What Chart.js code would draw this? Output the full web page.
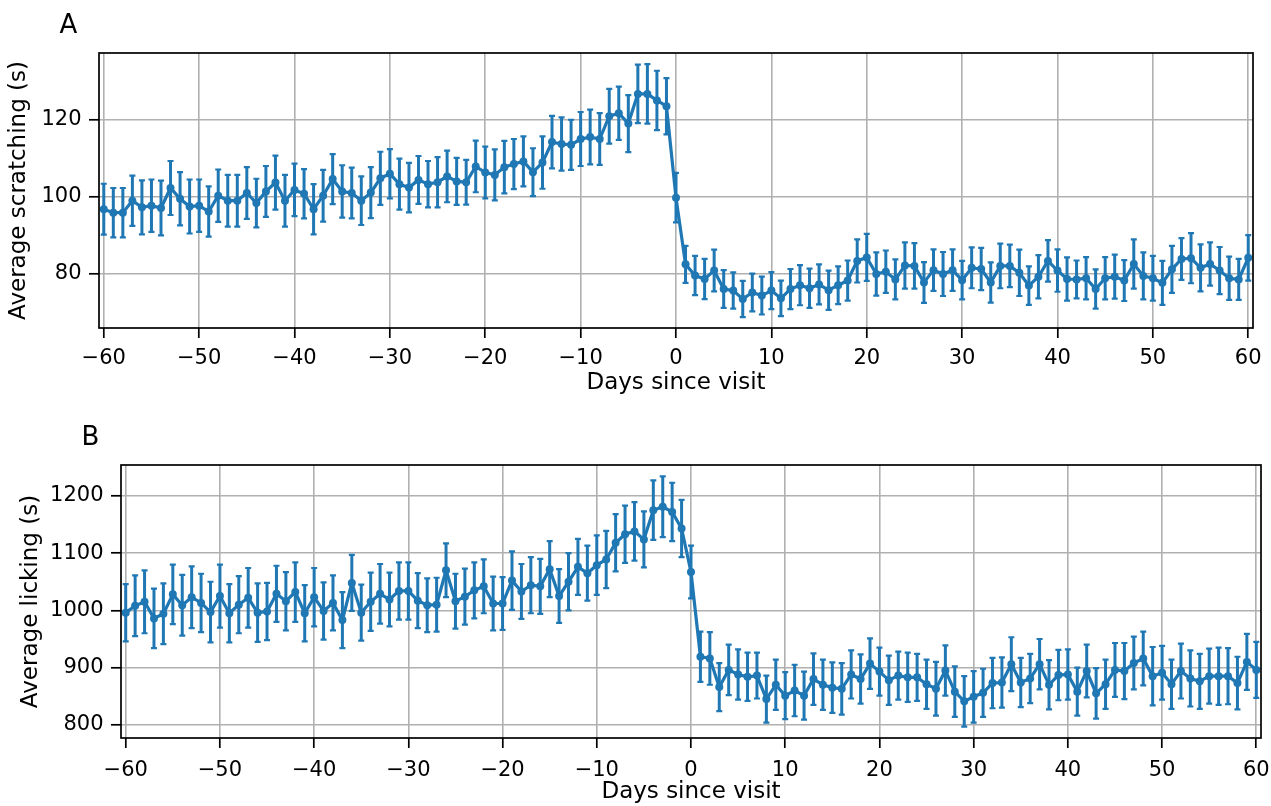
<!DOCTYPE html>
<html>
<head>
<meta charset="utf-8">
<script src="https://cdn.jsdelivr.net/npm/chart.js@4.4.0/dist/chart.umd.min.js"></script>
<style>
  html, body { margin: 0; padding: 0; background: #fff; }
  #wrap { position: relative; width: 1271px; height: 806px; }
  canvas { position: absolute; left: 0; }
  #chartA { top: 0; }
  #chartB { top: 405px; }
</style>
</head>
<body>
<div id="wrap">
  <canvas id="chartA" width="1271" height="405"></canvas>
  <canvas id="chartB" width="1271" height="401"></canvas>
</div>
<script>
// days relative to the visit
var days = [-60, -59, -58, -57, -56, -55, -54, -53, -52, -51, -50, -49, -48, -47, -46, -45, -44, -43, -42, -41,
  -40, -39, -38, -37, -36, -35, -34, -33, -32, -31, -30, -29, -28, -27, -26, -25, -24, -23, -22, -21,
  -20, -19, -18, -17, -16, -15, -14, -13, -12, -11, -10, -9, -8, -7, -6, -5, -4, -3, -2, -1,
  0, 1, 2, 3, 4, 5, 6, 7, 8, 9, 10, 11, 12, 13, 14, 15, 16, 17, 18, 19, 20,
  21, 22, 23, 24, 25, 26, 27, 28, 29, 30, 31, 32, 33, 34, 35, 36, 37, 38, 39, 40,
  41, 42, 43, 44, 45, 46, 47, 48, 49, 50, 51, 52, 53, 54, 55, 56, 57, 58, 59, 60];
var xTicks = [-60, -50, -40, -30, -20, -10, 0, 10, 20, 30, 40, 50, 60];

// panel A: scratching
var scratchMean = [96.8, 95.9, 95.9, 99.0, 97.3, 97.7, 97.1, 102.3, 99.5, 97.5,
  97.7, 96.2, 100.3, 99.0, 99.0, 101.0, 98.4, 101.4, 103.7, 99.0,
  101.8, 100.8, 96.8, 100.3, 104.6, 101.4, 101.0, 99.0, 101.1, 104.8,
  106.0, 103.3, 102.4, 104.4, 103.3, 103.8, 105.3, 104.0, 103.8, 107.9,
  106.3, 105.7, 107.7, 108.5, 109.2, 106.4, 108.9, 114.2, 113.7, 113.5,
  115.0, 115.5, 115.0, 120.9, 121.7, 119.0, 126.7, 126.7, 125.0, 123.5,
  99.8,
  82.5, 79.6, 78.7, 80.9, 76.1, 75.7, 73.5, 75.2, 74.4, 75.7,
  73.7, 76.1, 77.1, 76.3, 77.3, 75.8, 77.1, 78.3, 83.4, 84.3,
  80.0, 80.6, 78.6, 82.2, 82.1, 77.8, 81.0, 80.0, 81.0, 78.4,
  81.6, 81.3, 77.8, 82.1, 82.1, 80.3, 77.0, 79.3, 83.4, 80.9,
  78.7, 78.6, 78.9, 76.1, 78.9, 79.3, 78.3, 82.6, 79.5, 78.9,
  77.7, 81.2, 83.9, 84.1, 81.6, 82.6, 80.9, 78.9, 78.6, 84.2];
var scratchErr = [6.6, 6.4, 6.4, 6.5, 7.0, 6.8, 7.1, 7.0, 6.9, 7.0,
  6.8, 6.5, 6.8, 6.7, 6.7, 6.7, 6.3, 6.6, 7.0, 6.7,
  6.8, 6.4, 6.5, 6.7, 6.5, 6.8, 6.6, 6.3, 6.6, 6.9,
  6.4, 6.6, 6.4, 6.2, 6.0, 6.5, 6.7, 6.1, 5.8, 6.7,
  6.7, 6.6, 6.8, 6.5, 6.5, 6.2, 6.8, 6.8, 6.9, 6.5,
  7.0, 7.1, 6.7, 7.1, 6.9, 7.4, 7.6, 7.7, 7.7, 7.3,
  6.4,
  4.8, 5.1, 5.2, 5.4, 4.9, 4.7, 4.7, 4.9, 4.9, 4.8,
  4.6, 5.2, 5.2, 5.1, 5.2, 5.1, 4.9, 5.2, 5.6, 6.1,
  5.6, 5.5, 5.2, 6.0, 5.9, 5.3, 5.4, 5.7, 5.4, 5.0,
  5.3, 5.5, 5.2, 5.8, 5.5, 6.0, 5.0, 5.6, 5.4, 5.5,
  5.6, 4.9, 5.5, 5.1, 5.5, 5.7, 5.3, 6.4, 6.1, 5.8,
  5.7, 6.1, 5.4, 6.5, 6.1, 5.6, 6.1, 5.6, 5.3, 5.9];
var scratchTicks = [80, 100, 120];

// panel B: licking
var lickMean = [996, 1008, 1015, 986, 994, 1028, 1009, 1023, 1013, 997,
  1025, 995, 1010, 1022, 996, 998, 1029, 1016, 1032, 995,
  1023, 999, 1013, 983, 1048, 996, 1015, 1029, 1019, 1034,
  1034, 1017, 1009, 1010, 1070, 1016, 1024, 1035, 1042, 1012,
  1012, 1052, 1033, 1044, 1042, 1072, 1025, 1050, 1076, 1065,
  1079, 1089, 1118, 1133, 1138, 1124, 1175, 1181, 1172, 1143,
  1067,
  919, 916, 866, 896, 888, 884, 886, 845, 870, 851,
  860, 851, 880, 870, 865, 863, 888, 880, 907, 893,
  878, 886, 883, 883, 871, 863, 895, 858, 841, 849,
  856, 873, 874, 906, 874, 881, 906, 870, 887, 888,
  858, 894, 855, 871, 896, 894, 908, 916, 885, 891,
  871, 894, 881, 876, 885, 885, 885, 873, 910, 896];
var lickErr = [50, 53, 55, 52, 53, 52, 53, 54, 51, 53,
  55, 51, 50, 52, 51, 50, 49, 51, 52, 49,
  51, 50, 48, 49, 49, 49, 51, 52, 47, 50,
  50, 48, 47, 47, 47, 48, 49, 49, 47, 47,
  46, 51, 48, 49, 48, 49, 47, 50, 49, 48,
  52, 50, 50, 50, 51, 49, 52, 53, 51, 50,
  46,
  44, 46, 42, 44, 44, 42, 40, 41, 44, 41,
  45, 42, 45, 44, 44, 45, 42, 43, 44, 42,
  43, 42, 43, 41, 43, 47, 44, 44, 44, 45,
  42, 44, 44, 47, 43, 43, 44, 43, 44, 44,
  42, 46, 44, 43, 47, 49, 46, 47, 51, 47,
  43, 48, 49, 48, 48, 50, 49, 46, 49, 49];
var lickTicks = [800, 900, 1000, 1100, 1200];

var blue = "#1f77b4";
Chart.defaults.font.family = "'DejaVu Sans', sans-serif";
Chart.defaults.color = "#000";

// vertical error bars with small caps, drawn under the line
var errorBars = {
  id: "errorBars",
  beforeDatasetsDraw: function (chart) {
    var ctx = chart.ctx;
    var x = chart.scales.x, y = chart.scales.y;
    var ds = chart.data.datasets[0];
    ctx.save();
    ctx.strokeStyle = blue;
    ds.data.forEach(function (p, i) {
      var px = x.getPixelForValue(p.x);
      var top = y.getPixelForValue(p.y + ds.errors[i]);
      var bot = y.getPixelForValue(p.y - ds.errors[i]);
      ctx.lineWidth = 3;
      ctx.beginPath();
      ctx.moveTo(px, top);
      ctx.lineTo(px, bot);
      ctx.stroke();
      ctx.lineWidth = 2.2;
      ctx.beginPath();
      ctx.moveTo(px - 3, top);
      ctx.lineTo(px + 3, top);
      ctx.moveTo(px - 3, bot);
      ctx.lineTo(px + 3, bot);
      ctx.stroke();
    });
    ctx.restore();
  },
};

// black frame round the plot and the panel letter
var frame = {
  id: "frame",
  afterDraw: function (chart, args, opts) {
    var ctx = chart.ctx;
    var a = chart.chartArea;
    ctx.save();
    ctx.strokeStyle = "#000";
    ctx.lineWidth = 1.7;
    ctx.strokeRect(a.left, a.top, a.right - a.left, a.bottom - a.top);
    ctx.font = "26px 'DejaVu Sans', sans-serif";
    ctx.fillStyle = "#000";
    ctx.textAlign = "left";
    ctx.textBaseline = "alphabetic";
    ctx.fillText(opts.letter, a.left - 39.5, a.top - 20.5);
    ctx.restore();
  },
};

function minus(v) {
  return String(v).replace("-", "\u2212");
}

function makeChart(id, o) {
  var points = days.map(function (d, i) {
    return { x: d, y: o.mean[i] };
  });
  return new Chart(document.getElementById(id), {
    type: "line",
    data: {
      datasets: [
        {
          data: points,
          errors: o.err,
          borderColor: blue,
          backgroundColor: blue,
          borderWidth: 3.2,
          tension: 0,
          pointRadius: 4,
          pointBorderWidth: 0,
          pointBackgroundColor: blue,
        },
      ],
    },
    options: {
      responsive: false,
      animation: false,
      events: [],
      layout: { padding: { top: o.padTop, right: o.padRight, left: 0, bottom: 0 } },
      plugins: {
        legend: { display: false },
        tooltip: { enabled: false },
        frame: { letter: o.letter },
      },
      scales: {
        x: {
          type: "linear",
          min: -60.5,
          max: 60.5,
          afterBuildTicks: function (s) {
            s.ticks = xTicks.map(function (v) { return { value: v }; });
          },
          afterFit: function (s) {
            s.height = o.xHeight;
            s.paddingLeft = 0;
            s.paddingRight = 0;
          },
          grid: { color: "#b0b0b0", lineWidth: 1.6, tickColor: "#000", tickLength: 10, tickWidth: 1.7 },
          border: { display: false },
          ticks: {
            autoSkip: false,
            maxRotation: 0,
            padding: o.xTickPad,
            font: { size: 21 },
            callback: function (v) { return minus(v); },
          },
          title: {
            display: true,
            text: "Days since visit",
            font: { size: 23 },
            padding: { top: 0, bottom: o.xTitlePad },
          },
        },
        y: {
          min: o.yMin,
          max: o.yMax,
          afterBuildTicks: function (s) {
            s.ticks = o.yTicks.map(function (v) { return { value: v }; });
          },
          afterFit: function (s) {
            s.width = o.yWidth;
            s.paddingTop = 0;
            s.paddingBottom = 0;
          },
          grid: { color: "#b0b0b0", lineWidth: 1.6, tickColor: "#000", tickLength: 10, tickWidth: 1.7 },
          border: { display: false },
          ticks: {
            padding: 7.5,
            font: { size: 21 },
            callback: function (v) { return minus(v); },
          },
          title: {
            display: true,
            text: o.yLabel,
            font: { size: 23 },
            padding: { top: o.yTitlePad, bottom: 0 },
          },
        },
      },
    },
    plugins: [errorBars, frame],
  });
}

makeChart("chartA", {
  mean: scratchMean,
  err: scratchErr,
  yTicks: scratchTicks,
  yMin: 66,
  yMax: 137.3,
  yLabel: "Average scratching (s)",
  letter: "A",
  padTop: 53,
  padRight: 18,
  xHeight: 77,
  yWidth: 99,
  xTickPad: 7.5,
  xTitlePad: 8,
  yTitlePad: 5,
});

makeChart("chartB", {
  mean: lickMean,
  err: lickErr,
  yTicks: lickTicks,
  yMin: 777,
  yMax: 1254,
  yLabel: "Average licking (s)",
  letter: "B",
  padTop: 60,
  padRight: 10,
  xHeight: 68,
  yWidth: 121,
  xTickPad: 10,
  xTitlePad: 0,
  yTitlePad: 17,
});
</script>
</body>
</html>
